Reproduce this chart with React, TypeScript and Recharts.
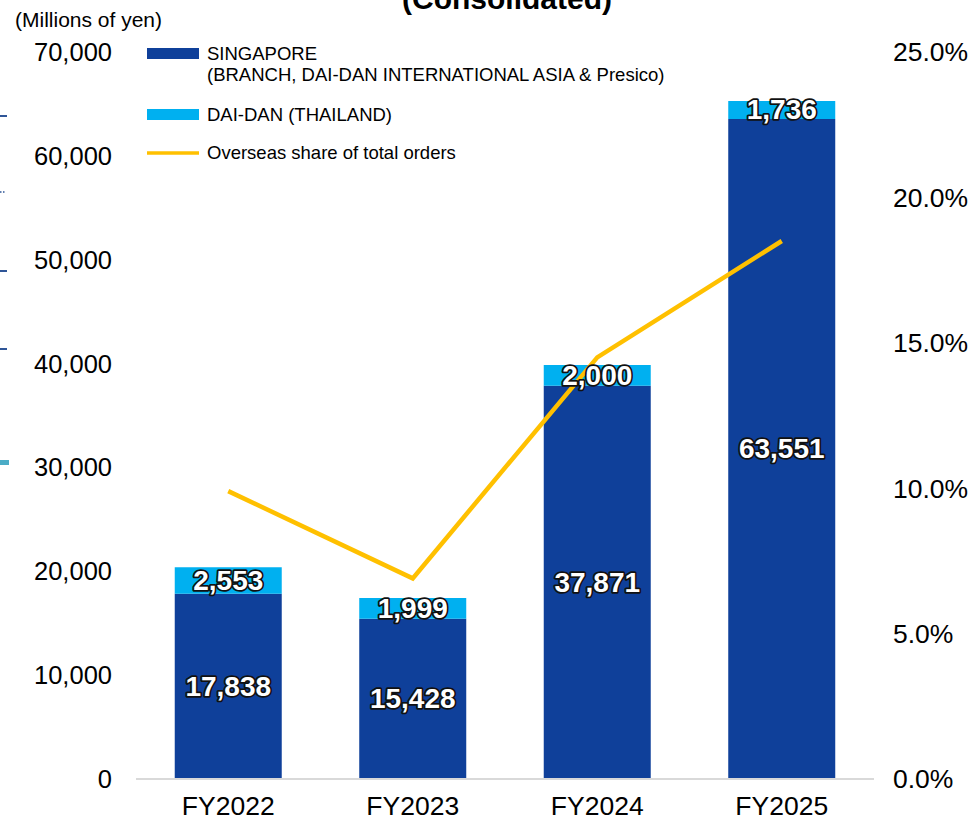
import React from 'react';
import { ComposedChart, Bar, Line, XAxis, YAxis, LabelList } from 'recharts';

const years = ['FY2022', 'FY2023', 'FY2024', 'FY2025'];
const singapore = [17838, 15428, 37871, 63551];
const thailand = [2553, 1999, 2000, 1736];
const overseasShare = [9.9, 6.9, 14.5, 18.5];

const leftTicks = [0, 10000, 20000, 30000, 40000, 50000, 60000, 70000];
const rightTicks = [0, 5, 10, 15, 20, 25];

const data = years.map((year, i) => ({
  year,
  singapore: singapore[i],
  thailand: thailand[i],
  share: overseasShare[i],
}));

const FONT = '"Liberation Sans", Arial, sans-serif';
const DARK = '#0F409A';
const LIGHT = '#00B0F0';
const GOLD = '#FFC000';

const fmt = (v: number) => v.toLocaleString('en-US');

function ValueLabel(props: any) {
  const vb = props.viewBox || {};
  const x = vb.x ?? props.x;
  const y = vb.y ?? props.y;
  const w = vb.width ?? props.width;
  const h = vb.height ?? props.height;
  return (
    <text
      x={x + w / 2}
      y={y + h / 2}
      textAnchor="middle"
      dominantBaseline="central"
      fill="#FFFFFF"
      stroke="#111111"
      strokeWidth={3.5}
      strokeLinejoin="round"
      paintOrder="stroke"
      fontFamily={FONT}
      fontWeight="bold"
      fontSize={28}
    >
      {fmt(props.value)}
    </text>
  );
}

// legend drawn by hand, sits inside the plot at top-left
function LegendBox() {
  const text = { fontFamily: FONT, fontSize: 18.5, fill: '#000' };
  return (
    <g transform="translate(147, 40)">
      <rect x={0} y={8} width={52} height={11} fill={DARK} />
      <text x={60} y={13} dominantBaseline="central" {...text}>SINGAPORE</text>
      <text x={60} y={34} dominantBaseline="central" {...text}>
        (BRANCH, DAI-DAN INTERNATIONAL ASIA &amp; Presico)
      </text>
      <rect x={0} y={69} width={52} height={11} fill={LIGHT} />
      <text x={60} y={74} dominantBaseline="central" {...text}>DAI-DAN (THAILAND)</text>
      <line x1={0} x2={52} y1={113} y2={113} stroke={GOLD} strokeWidth={3.5} />
      <text x={60} y={112} dominantBaseline="central" {...text}>Overseas share of total orders</text>
    </g>
  );
}

export default function App() {
  const leftTick = { fill: '#000', fontSize: 25.5, fontFamily: FONT };
  const otherTick = { fill: '#000', fontSize: 26.5, fontFamily: FONT };
  return (
    <div style={{ position: 'absolute', left: 0, top: 0, width: 975, height: 822, background: '#fff', overflow: 'hidden' }}>
      <ComposedChart
        width={975}
        height={822}
        data={data}
        margin={{ top: 52, right: 0, bottom: 0, left: 0 }}
        barCategoryGap="21%"
      >
        <XAxis
          dataKey="year"
          height={43}
          tick={otherTick}
          tickLine={false}
          tickMargin={11}
          interval={0}
          axisLine={{ stroke: '#D9D9D9', strokeWidth: 2 }}
        />
        <YAxis
          yAxisId="left"
          width={136}
          domain={[0, 70000]}
          ticks={leftTicks}
          interval={0}
          tick={leftTick}
          tickLine={false}
          axisLine={false}
          tickMargin={18}
          tickFormatter={fmt}
        />
        <YAxis
          yAxisId="right"
          orientation="right"
          width={101}
          domain={[0, 25]}
          ticks={rightTicks}
          interval={0}
          tick={otherTick}
          tickLine={false}
          axisLine={false}
          tickMargin={13}
          tickFormatter={(v: number) => `${v.toFixed(1)}%`}
        />
        <Bar yAxisId="left" dataKey="singapore" stackId="a" fill={DARK} isAnimationActive={false}>
          <LabelList dataKey="singapore" content={ValueLabel} />
        </Bar>
        <Bar yAxisId="left" dataKey="thailand" stackId="a" fill={LIGHT} isAnimationActive={false}>
          <LabelList dataKey="thailand" content={ValueLabel} />
        </Bar>
        <Line
          yAxisId="right"
          type="linear"
          dataKey="share"
          stroke={GOLD}
          strokeWidth={4.5}
          dot={false}
          activeDot={false}
          isAnimationActive={false}
        />
      </ComposedChart>
      <svg
        width={975}
        height={822}
        style={{ position: 'absolute', left: 0, top: 0, pointerEvents: 'none' }}
      >
        <text x={507} y={9} textAnchor="middle" fontFamily={FONT} fontWeight="bold" fontSize={30} fill="#000">
          (Consolidated)
        </text>
        <text x={15} y={27} fontFamily={FONT} fontSize={21} fill="#000">(Millions of yen)</text>
        <LegendBox />
        <line x1={0} x2={7} y1={116} y2={116} stroke="#2F5597" strokeWidth={2} />
        <line x1={0} x2={6} y1={192} y2={192} stroke="#2F5597" strokeWidth={1.5} strokeDasharray="1.5 1.5" />
        <line x1={0} x2={7} y1={271} y2={271} stroke="#2F5597" strokeWidth={2} />
        <line x1={0} x2={7} y1={349} y2={349} stroke="#2F5597" strokeWidth={2} />
        <rect x={0} y={460} width={9} height={5} fill="#4BACC6" />
      </svg>
    </div>
  );
}
